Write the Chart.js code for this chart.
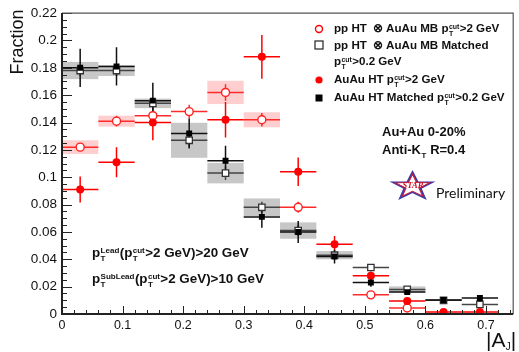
<!DOCTYPE html>
<html><head><meta charset="utf-8">
<script src="https://cdn.jsdelivr.net/npm/chart.js@4/dist/chart.umd.min.js"></script>
<style>
html,body{margin:0;padding:0;background:#fff;}
#wrap{position:relative;width:519px;height:352px;overflow:hidden;font-family:"Liberation Sans",Arial,sans-serif;color:#111;}
canvas{position:absolute;left:0;top:0;}
.t{position:absolute;white-space:nowrap;line-height:1;}
.b{font-weight:bold;}
.ss{display:inline-flex;flex-direction:column;font-size:0.6em;line-height:1em;vertical-align:0.45em;margin:0 0.05em;}
.ss span{display:block;}
svg{position:absolute;left:0;top:0;}
</style></head><body>
<div id="wrap">
<canvas id="c" width="519" height="352"></canvas>
<svg width="519" height="352" viewBox="0 0 519 352">
  <circle cx="319" cy="29" r="3.5" fill="#fff" stroke="#ff0000" stroke-width="1.4"/>
  <rect x="315" y="41" width="8" height="8" fill="#fff" stroke="#333" stroke-width="1.3"/>
  <circle cx="319" cy="80" r="3.6" fill="#ff0000"/>
  <rect x="315.5" y="94.5" width="7" height="7" fill="#000"/>
</svg>
<div class="t" style="left:-23px;top:33px;width:80px;text-align:center;font-size:18px;transform:rotate(-90deg);">Fraction</div>

<div class="t b" style="left:334px;top:22px;font-size:11.6px;">pp HT &nbsp;⊗ AuAu MB p<span class="ss"><span>cut</span><span>T</span></span>&gt;2 GeV</div>
<div class="t b" style="left:334px;top:39px;font-size:11.6px;">pp HT &nbsp;⊗ AuAu MB Matched</div>
<div class="t b" style="left:334px;top:55px;font-size:11.6px;">p<span class="ss"><span>cut</span><span>T</span></span>&gt;0.2 GeV</div>
<div class="t b" style="left:334px;top:73px;font-size:11.6px;">AuAu HT p<span class="ss"><span>cut</span><span>T</span></span>&gt;2 GeV</div>
<div class="t b" style="left:334px;top:91px;font-size:11.6px;">AuAu HT Matched p<span class="ss"><span>cut</span><span>T</span></span>&gt;0.2 GeV</div>

<div class="t b" style="left:382px;top:125px;font-size:13px;">Au+Au 0-20%</div>
<div class="t b" style="left:382px;top:143px;font-size:13px;">Anti-K<span class="ss"><span>&nbsp;</span><span>T</span></span> R=0.4</div>

<svg width="519" height="352" viewBox="0 0 519 352">
  <g transform="translate(392,172) scale(0.41,0.28)">
    <polygon points="50,2 61.8,35.8 97.6,36.5 69,58.2 79.4,92.5 50,72 20.6,92.5 31,58.2 2.4,36.5 38.2,35.8" fill="none" stroke="#3a3aa8" stroke-width="6"/>
    <polygon points="50,8 60,37.5 92,38.5 66,57.5 75,86 50,68.5 25,86 34,57.5 8,38.5 40,37.5" fill="none" stroke="#d0203a" stroke-width="3"/>
  </g>
  <text x="413" y="188" text-anchor="middle" font-family="Liberation Serif, serif" font-style="italic" font-weight="bold" font-size="8.5" fill="#d0102a">STAR</text>
</svg>
<div class="t" style="left:436px;top:186px;font-size:14px;font-family:Lato,sans-serif;">Preliminary</div>

<div class="t b" style="left:92px;top:246px;font-size:13.4px;">p<span class="ss"><span>Lead</span><span>T</span></span>(p<span class="ss"><span>cut</span><span>T</span></span>&gt;2 GeV)&gt;20 GeV</div>
<div class="t b" style="left:92px;top:272px;font-size:13.4px;">p<span class="ss"><span>SubLead</span><span>T</span></span>(p<span class="ss"><span>cut</span><span>T</span></span>&gt;2 GeV)&gt;10 GeV</div>

<div class="t" style="left:486px;top:329px;font-size:21px;">|A<span style="font-size:0.5em;vertical-align:-0.3em;">J</span>|</div>
</div>
<script>
// ---- data ----
const binCenters = [0.03, 0.09, 0.15, 0.21, 0.27, 0.33, 0.39, 0.45, 0.51, 0.57, 0.63, 0.69];
const binHalfWidth = 0.03;
// pp HT (x) AuAu MB, pT cut > 2 GeV (open red circles)
const ppMB2      = [0.122, 0.141, 0.145, 0.148, 0.162, 0.142, 0.078, null, 0.014, 0.0044, null, null];
const ppMB2Err   = [0.003, 0.004, 0.004, 0.005, 0.006, 0.005, 0.004, null, 0.002, 0.001, null, null];
const ppMB2Sys   = [0.005, 0.004, 0, 0, 0.0085, 0.0055, 0, 0, 0, 0, 0, 0];
// pp HT (x) AuAu MB matched, pT cut > 0.2 GeV (open squares)
const ppMatched    = [0.178, 0.178, 0.154, 0.127, 0.103, 0.078, 0.061, 0.043, 0.034, 0.018, 0.010, 0.007];
const ppMatchedErr = [0.004, 0.004, 0.004, 0.005, 0.005, 0.004, 0.004, 0.003, 0.002, 0.0015, 0.001, 0.001];
const ppMatchedSys = [0.0063, 0.004, 0.0035, 0.0128, 0.0075, 0.0065, 0.006, 0.003, 0, 0.0022, 0, 0];
// AuAu HT, pT cut > 2 GeV (filled red circles)
const auau2      = [0.091, 0.111, 0.140, null, 0.142, 0.188, 0.104, 0.051, 0.028, 0.0095, 0.0015, 0.0015];
const auau2Err   = [0.0095, 0.011, 0.013, null, 0.013, 0.016, 0.0105, 0.006, 0.003, 0.002, 0.001, 0.001];
// AuAu HT matched, pT cut > 0.2 GeV (filled black squares)
const auauMatched    = [0.180, 0.181, 0.156, 0.132, 0.112, 0.071, 0.060, 0.042, 0.023, 0.016, 0.0102, 0.0117];
const auauMatchedErr = [0.014, 0.014, 0.013, 0.011, 0.011, 0.008, 0.008, 0.005, 0.003, 0.002, 0.001, 0.001];

const xTickStep = 0.1, yTickStep = 0.02;

function pts(vals){ return binCenters.map((x,i)=> vals[i]==null ? null : {x:x, y:vals[i]}).filter(p=>p); }

const series = [
  {vals:ppMB2, err:ppMB2Err, sys:ppMB2Sys, line:'#ff2a2a', box:'rgba(255,60,60,0.25)'},
  {vals:ppMatched, err:ppMatchedErr, sys:ppMatchedSys, line:'#444', box:'rgba(0,0,0,0.22)'},
  {vals:auau2, err:auau2Err, sys:null, line:'#ff0000'},
  {vals:auauMatched, err:auauMatchedErr, sys:null, line:'#111'}
];

const errPlugin = {
  id:'errs',
  beforeDatasetsDraw(chart){
    const {ctx, chartArea:a, scales:{x, y}} = chart;
    ctx.save();
    ctx.beginPath(); ctx.rect(a.left, a.top, a.right-a.left, a.bottom-a.top); ctx.clip();
    series.forEach(s=>{
      if(!s.sys) return;
      ctx.fillStyle = s.box;
      binCenters.forEach((c,i)=>{
        const v = s.vals[i], d = s.sys[i];
        if(v==null || !d) return;
        const x0 = x.getPixelForValue(c-binHalfWidth), x1 = x.getPixelForValue(c+binHalfWidth);
        const y0 = y.getPixelForValue(v+d), y1 = y.getPixelForValue(v-d);
        ctx.fillRect(x0, y0, x1-x0, y1-y0);
      });
    });
    series.forEach(s=>{
      ctx.strokeStyle = s.line; ctx.lineWidth = 1.5;
      binCenters.forEach((c,i)=>{
        const v = s.vals[i]; if(v==null) return;
        const e = s.err[i] || 0;
        const px = x.getPixelForValue(c), py = y.getPixelForValue(v);
        ctx.beginPath();
        ctx.moveTo(x.getPixelForValue(c-binHalfWidth), py);
        ctx.lineTo(x.getPixelForValue(c+binHalfWidth), py);
        ctx.moveTo(px, y.getPixelForValue(v+e));
        ctx.lineTo(px, y.getPixelForValue(v-e));
        ctx.stroke();
      });
    });
    ctx.restore();
  },
  afterDraw(chart){
    const {ctx, chartArea:a, scales:{x, y}} = chart;
    ctx.save();
    ctx.strokeStyle = '#222'; ctx.lineWidth = 1;
    for(let k=0; k<=Math.round(y.max/0.005); k++){
      const v = k*0.005, py = Math.round(y.getPixelForValue(v))+0.5;
      const len = (k%4===0) ? 10 : 5;
      ctx.beginPath(); ctx.moveTo(a.left, py); ctx.lineTo(a.left+len, py); ctx.stroke();
    }
    for(let k=0; k*0.02<=x.max+1e-9; k++){
      const v = k*0.02, px = Math.round(x.getPixelForValue(v))+0.5;
      const len = (k%5===0) ? 8 : 4;
      ctx.beginPath(); ctx.moveTo(px, a.bottom); ctx.lineTo(px, a.bottom-len); ctx.stroke();
    }
    ctx.strokeStyle = '#555'; ctx.lineWidth = 1.2;
    ctx.beginPath(); ctx.moveTo(a.left, a.top); ctx.lineTo(a.right, a.top); ctx.lineTo(a.right, a.bottom); ctx.stroke();
    ctx.strokeStyle = '#222'; ctx.lineWidth = 2;
    ctx.beginPath(); ctx.moveTo(a.left, a.top); ctx.lineTo(a.left, a.bottom); ctx.lineTo(a.right, a.bottom); ctx.stroke();
    ctx.restore();
  }
};

const fmt = v => { const r = Math.round(v*100)/100; return r===0 ? '0' : String(r); };

new Chart(document.getElementById('c'), {
  type:'scatter',
  data:{datasets:[
    {label:'AuAu HT Matched', data:pts(auauMatched), pointStyle:'rect', pointRadius:4.2, backgroundColor:'#000', borderColor:'#000', borderWidth:0, order:1},
    {label:'AuAu HT pT>2', data:pts(auau2), pointStyle:'circle', pointRadius:4, backgroundColor:'#ff0000', borderColor:'#ff0000', borderWidth:0, order:2},
    {label:'pp Matched', data:pts(ppMatched), pointStyle:'rect', pointRadius:4.5, backgroundColor:'#fff', borderColor:'#333', borderWidth:1.3, order:3},
    {label:'pp MB pT>2', data:pts(ppMB2), pointStyle:'circle', pointRadius:4, backgroundColor:'#fff', borderColor:'#ff2020', borderWidth:1.4, order:4}
  ]},
  options:{
    responsive:false, animation:false, events:[],
    layout:{padding:{left:0, right:2, top:13, bottom:0}},
    plugins:{legend:{display:false}, tooltip:{enabled:false}},
    scales:{
      x:{type:'linear', min:0, max:0.745,
         afterFit(s){ s.height = 38; },
         grid:{display:false, drawTicks:false}, border:{display:false},
         ticks:{stepSize:xTickStep, includeBounds:false, padding:4, color:'#111', font:{family:'Liberation Sans', size:12.5}, callback:fmt, maxRotation:0}},
      y:{type:'linear', min:0, max:0.22,
         afterFit(s){ s.width = 62; },
         grid:{display:false, drawTicks:false}, border:{display:false},
         ticks:{stepSize:yTickStep, padding:5, color:'#111', font:{family:'Liberation Sans', size:13.5}, callback:fmt}}
    }
  },
  plugins:[errPlugin]
});
</script>
</body></html>
